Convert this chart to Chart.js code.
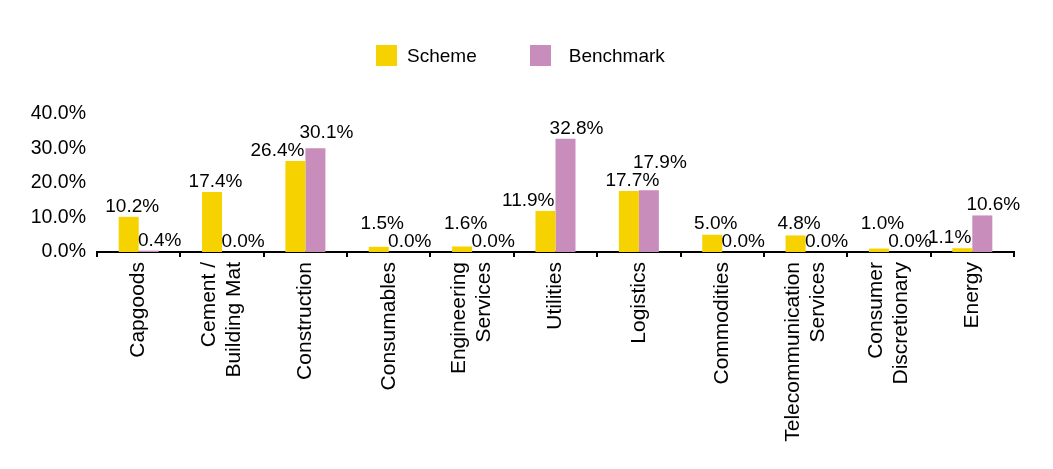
<!DOCTYPE html>
<html>
<head>
<meta charset="utf-8">
<script src="https://cdn.jsdelivr.net/npm/chart.js@4.4.1/dist/chart.umd.min.js"></script>
<style>
  html, body { margin: 0; padding: 0; background: #fff; overflow: hidden; }
  #page { position: relative; width: 1053px; height: 469px; }
  #legend { position: absolute; left: 376px; top: 45px; display: flex;
            font-family: "Liberation Sans", Arial, sans-serif; font-size: 19px; color: #000; }
  .item { display: flex; align-items: center; height: 21px; }
  .box { width: 21px; height: 21px; }
</style>
</head>
<body>
<div id="page">
  <canvas id="chart" width="1053" height="469"></canvas>
  <div id="legend"></div>
</div>
<script>
var categories = [
  ["Capgoods"],
  ["Cement /", "Building Mat"],
  ["Construction"],
  ["Consumables"],
  ["Engineering", "Services"],
  ["Utilities"],
  ["Logistics"],
  ["Commodities"],
  ["Telecommunication", "Services"],
  ["Consumer", "Discretionary"],
  ["Energy"]
];
var seriesNames = ["Scheme", "Benchmark"];
var scheme    = [10.2, 17.4, 26.4, 1.5, 1.6, 11.9, 17.7, 5.0, 4.8, 1.0, 1.1];
var benchmark = [0.4, 0.0, 30.1, 0.0, 0.0, 32.8, 17.9, 0.0, 0.0, 0.0, 10.6];
var yTicks = [0, 10, 20, 30, 40];

var colors = ["rgb(246,210,0)", "rgb(200,141,186)"];
var FONT = '"Liberation Sans", Arial, sans-serif';

function pct(v) {
  return v.toFixed(1) + "%";
}

// legend in html, built from the series names
function render_legend() {
  var gaps = [10, 18];
  var spacing = [53, 0];
  var text = "";
  for (var i = 0; i < seriesNames.length; i++) {
    text += '<div class="item" style="margin-right:' + spacing[i] + 'px">' +
            '<span class="box" style="background:' + colors[i] + ';margin-right:' + gaps[i] + 'px"></span>' +
            '<span>' + seriesNames[i] + '</span></div>';
  }
  document.getElementById("legend").innerHTML = text;
}

// rotated category labels, several lines centred on the category
var xLabelPlugin = {
  id: "xlabels",
  afterDraw: function(chart) {
    var ctx = chart.ctx;
    var xs = chart.scales.x;
    var lineH = 25;
    ctx.save();
    ctx.font = "21px " + FONT;
    ctx.fillStyle = "#000";
    ctx.textAlign = "right";
    ctx.textBaseline = "middle";
    for (var i = 0; i < categories.length; i++) {
      var lines = categories[i];
      var x = xs.getPixelForValue(i);
      ctx.save();
      ctx.translate(x, chart.chartArea.bottom + 10);
      ctx.rotate(-Math.PI / 2);
      for (var j = 0; j < lines.length; j++) {
        ctx.fillText(lines[j], 0, (j - (lines.length - 1) / 2) * lineH);
      }
      ctx.restore();
    }
    ctx.restore();
  }
};

// value labels above bars, pushed aside where they would collide
var valueLabelPlugin = {
  id: "valuelabels",
  afterDatasetsDraw: function(chart) {
    var ctx = chart.ctx;
    var m0 = chart.getDatasetMeta(0).data;
    var m1 = chart.getDatasetMeta(1).data;
    ctx.save();
    ctx.font = "19px " + FONT;
    ctx.fillStyle = "#000";
    ctx.textAlign = "center";
    ctx.textBaseline = "alphabetic";
    for (var i = 0; i < categories.length; i++) {
      var b0 = m0[i], b1 = m1[i];
      var t0 = pct(scheme[i]), t1 = pct(benchmark[i]);
      var w0 = ctx.measureText(t0).width, w1 = ctx.measureText(t1).width;
      var x0 = b0.x + 3.5, y0 = b0.y - 5;
      var x1 = b1.x + 11, y1 = b1.y - 5;
      var left1 = b1.x - b1.width / 2;
      // scheme label running into the benchmark bar
      if (x0 + w0 / 2 > left1 && y0 > b1.y) {
        x0 = left1 - 1 - w0 / 2;
      }
      // the two labels on top of each other: lift the bigger one
      var xOver = (x0 + w0 / 2 > x1 - w1 / 2) && (x1 + w1 / 2 > x0 - w0 / 2);
      if (xOver && Math.abs(y0 - y1) < 18) {
        if (scheme[i] > benchmark[i]) {
          y0 = Math.min(y0, y1 - 18);
        } else {
          y1 = Math.min(y1, y0 - 18);
        }
      }
      ctx.fillText(t0, x0, y0);
      ctx.fillText(t1, x1, y1);
    }
    ctx.restore();
  }
};

function setup() {
  render_legend();
  Chart.defaults.font.family = FONT;
  Chart.defaults.color = "#000";
  var ctx = document.getElementById("chart").getContext("2d");
  new Chart(ctx, {
    type: "bar",
    data: {
      labels: categories,
      datasets: [{
        label: seriesNames[0],
        data: scheme,
        backgroundColor: colors[0],
        borderWidth: 0
      }, {
        label: seriesNames[1],
        data: benchmark,
        backgroundColor: colors[1],
        borderWidth: 0
      }]
    },
    options: {
      responsive: false,
      animation: false,
      categoryPercentage: 0.48,
      barPercentage: 1.0,
      layout: { padding: { top: 114, right: 39, bottom: 0, left: 0 } },
      plugins: {
        legend: { display: false },
        tooltip: { enabled: false }
      },
      scales: {
        x: {
          grid: { drawOnChartArea: false, drawTicks: true, tickLength: 5, color: "#000", lineWidth: 2 },
          border: { display: true, color: "#000", width: 2 },
          ticks: { display: false },
          afterFit: function(scale) { scale.height = 469 - 252; }
        },
        y: {
          min: yTicks[0],
          max: yTicks[yTicks.length - 1],
          grid: { display: false, drawTicks: false },
          border: { display: false },
          ticks: {
            stepSize: yTicks[1] - yTicks[0],
            padding: 11,
            font: { size: 19.5 },
            color: "#000",
            callback: function(v) { return pct(v); }
          },
          afterFit: function(scale) { scale.width = 97; }
        }
      }
    },
    plugins: [valueLabelPlugin, xLabelPlugin]
  });
}

window.onload = setup;
</script>
</body>
</html>
